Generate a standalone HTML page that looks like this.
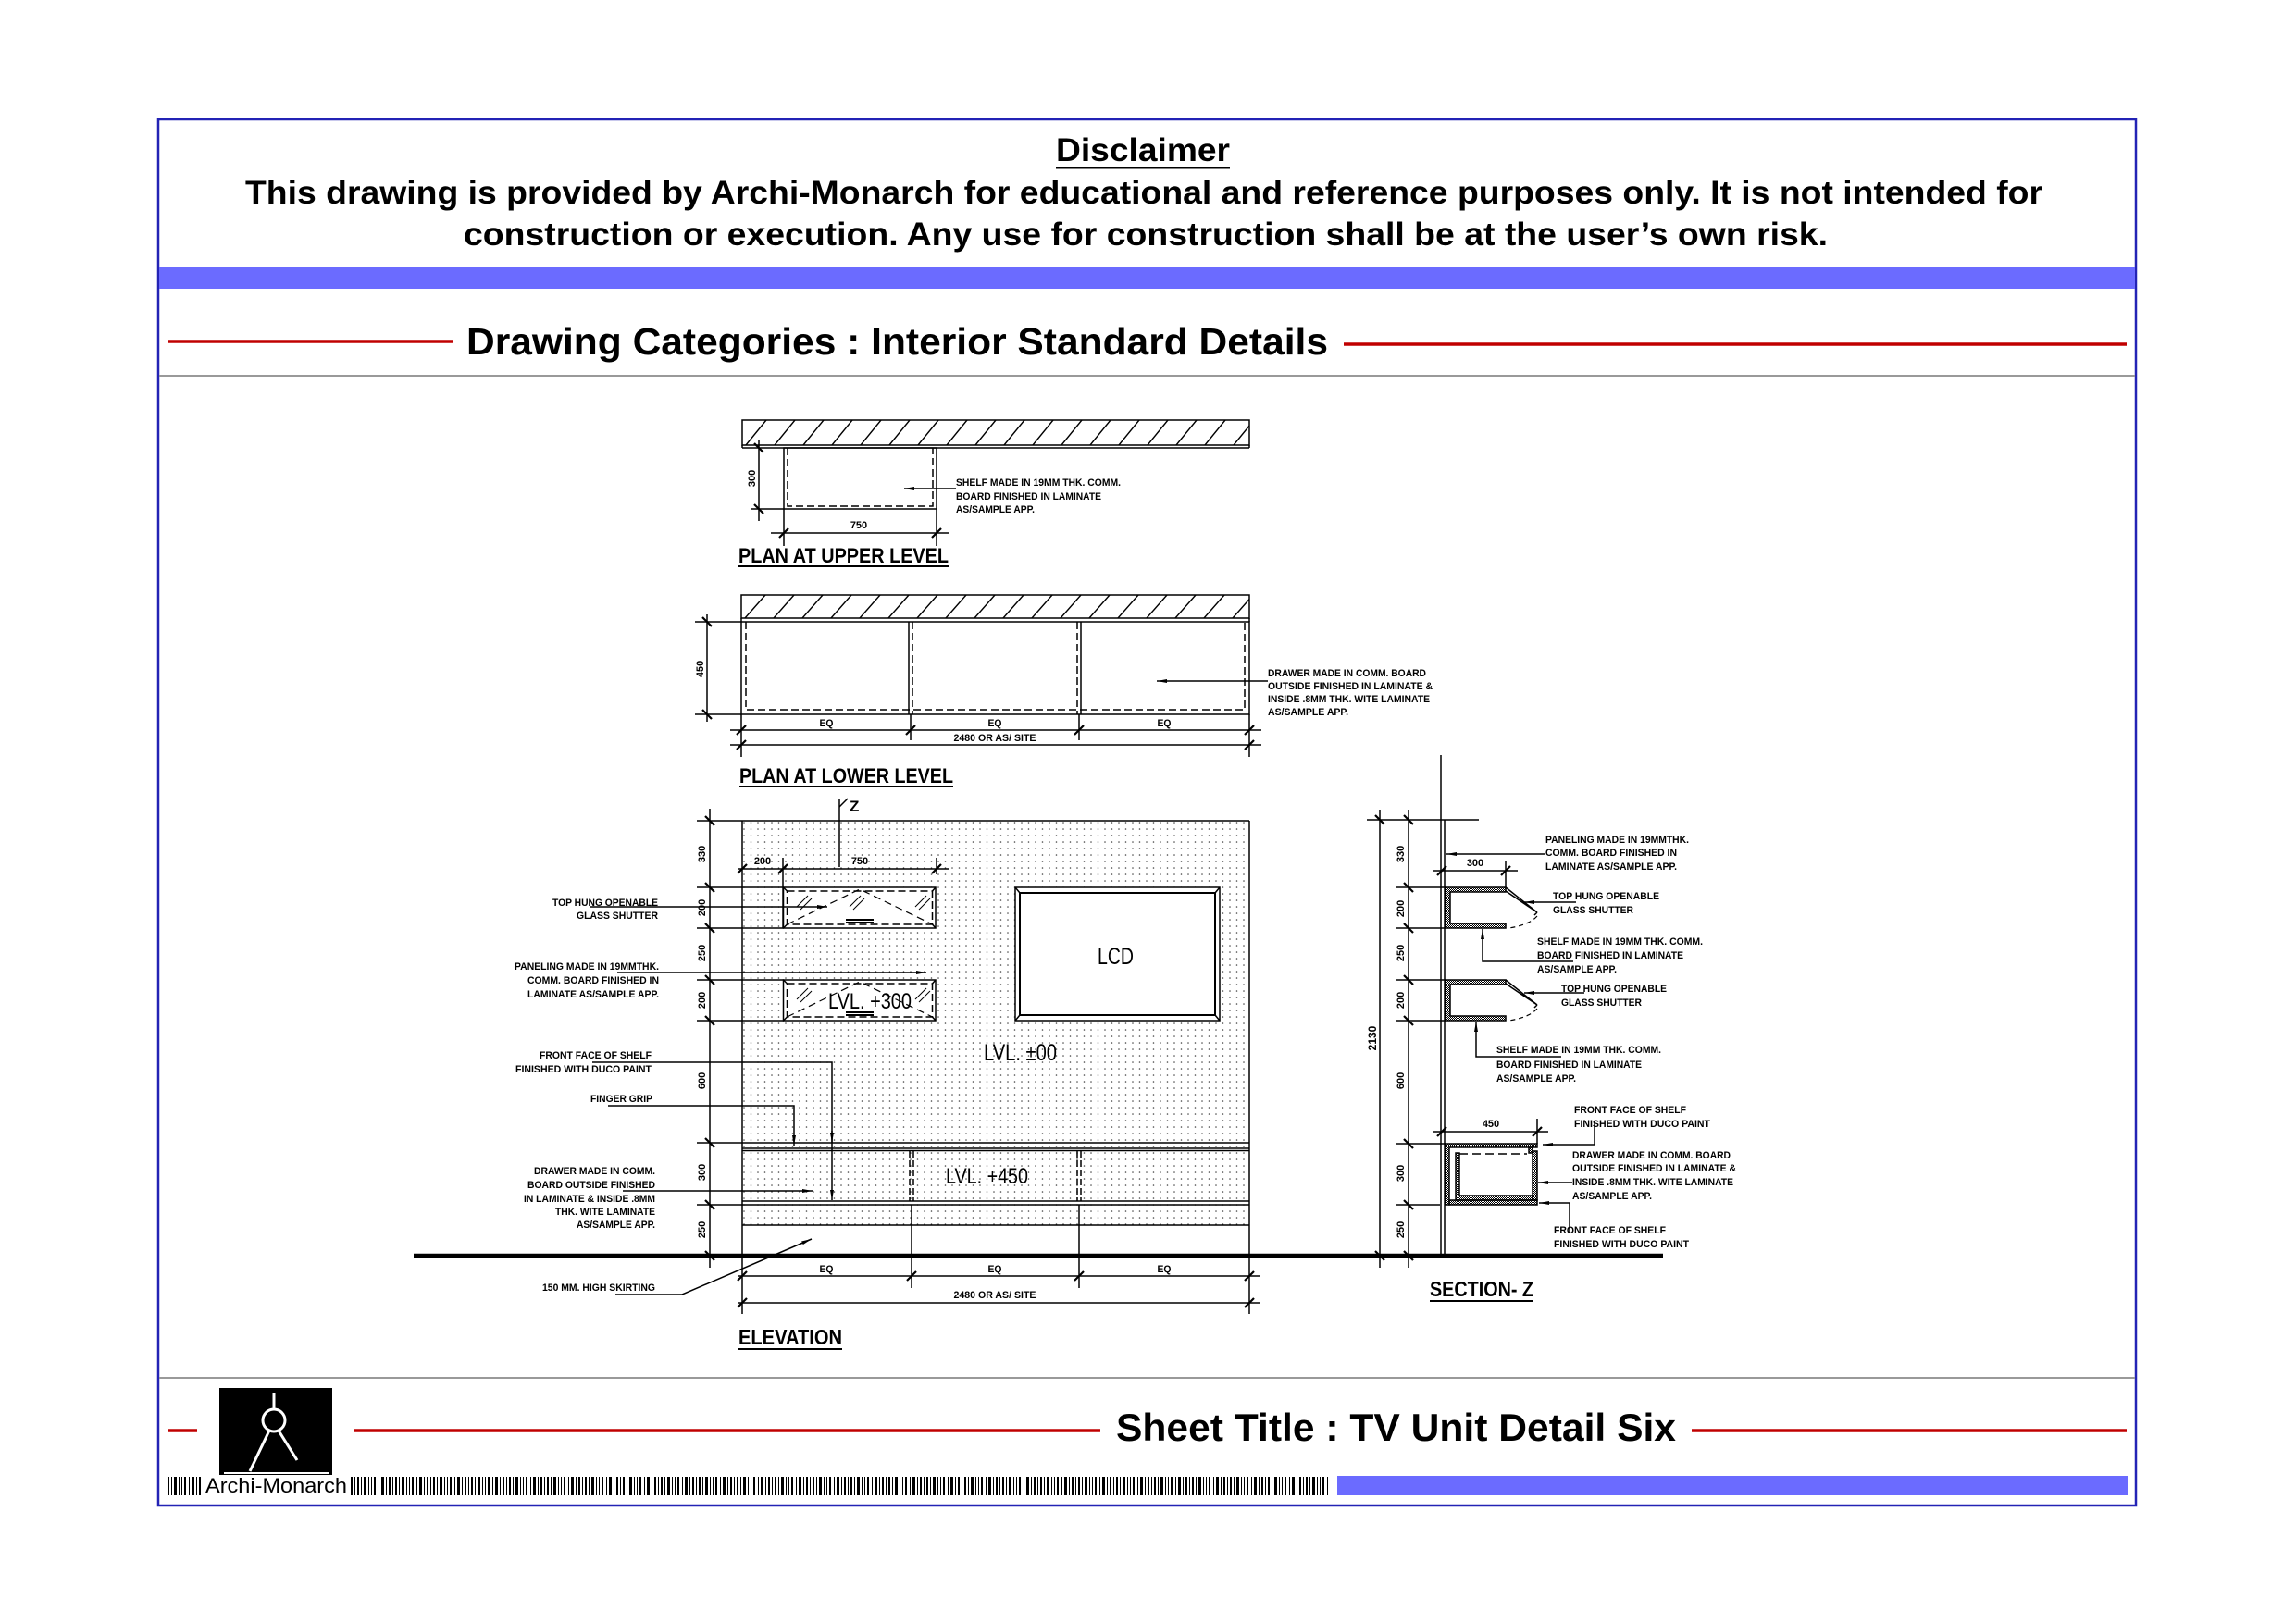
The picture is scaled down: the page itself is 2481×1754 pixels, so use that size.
<!DOCTYPE html>
<html><head><meta charset="utf-8"><style>
html,body{margin:0;padding:0;background:#fff;}
svg{display:block;}
text{font-family:"Liberation Sans",Arial,sans-serif;}
.b{font-weight:bold;}
.l{font-size:11px;font-weight:bold;}
.d{font-size:11px;font-weight:bold;}
</style></head><body>
<svg width="2481" height="1754" viewBox="0 0 2481 1754" xmlns="http://www.w3.org/2000/svg">
<defs>
 <pattern id="dots" patternUnits="userSpaceOnUse" x="802" y="887" width="7.5" height="7"><circle cx="2" cy="2" r="0.8" fill="#444"/></pattern>
 <pattern id="h1" patternUnits="userSpaceOnUse" x="802" y="454" width="31" height="27"><line x1="4" y1="27" x2="26" y2="0" stroke="#000" stroke-width="1.4"/></pattern>
 <pattern id="h2" patternUnits="userSpaceOnUse" x="801" y="643" width="31" height="25"><line x1="4" y1="25" x2="26" y2="0" stroke="#000" stroke-width="1.4"/></pattern>
 <pattern id="st" patternUnits="userSpaceOnUse" width="2" height="2"><rect width="1" height="1" fill="#000"/><rect x="1" y="1" width="1" height="1" fill="#000"/></pattern>
 <pattern id="bar" patternUnits="userSpaceOnUse" x="181" y="1596" width="41" height="20">
  <rect x="0" width="2" height="20"/><rect x="4" width="1" height="20"/><rect x="7" width="3" height="20"/><rect x="12" width="1" height="20"/><rect x="15" width="1" height="20"/><rect x="18" width="2" height="20"/><rect x="23" width="1" height="20"/><rect x="26" width="3" height="20"/><rect x="31" width="1" height="20"/><rect x="34" width="2" height="20"/><rect x="38" width="1" height="20"/>
 </pattern>
 <marker id="ar" markerUnits="userSpaceOnUse" markerWidth="12" markerHeight="6" refX="11" refY="3" orient="auto"><path d="M0,1 L11,3 L0,5 Z" fill="#000"/></marker>
 <g id="th"><line x1="-5" y1="5" x2="5" y2="-5" stroke="#000" stroke-width="2.2"/></g>
 <g id="tv"><line x1="-5" y1="-5" x2="5" y2="5" stroke="#000" stroke-width="2.2"/></g>
</defs>

<!-- frame -->
<rect x="171" y="129" width="2137" height="1498" fill="none" stroke="#2323b5" stroke-width="2.5"/>
<rect x="172" y="289" width="2135" height="23" fill="#6b6bff"/>
<line x1="172" y1="406" x2="2307" y2="406" stroke="#999" stroke-width="2"/>
<line x1="172" y1="1489" x2="2307" y2="1489" stroke="#999" stroke-width="2"/>

<!-- header -->
<text class="b" x="1141" y="174" font-size="35" textLength="188" lengthAdjust="spacingAndGlyphs">Disclaimer</text>
<rect x="1141" y="180" width="188" height="2.5" fill="#000"/>
<text class="b" x="265" y="220" font-size="35" textLength="1942" lengthAdjust="spacingAndGlyphs">This drawing is provided by Archi-Monarch for educational and reference purposes only. It is not intended for</text>
<text class="b" x="501" y="265" font-size="35" textLength="1474" lengthAdjust="spacingAndGlyphs">construction or execution. Any use for construction shall be at the user’s own risk.</text>

<line x1="181" y1="369" x2="490" y2="369" stroke="#c00000" stroke-width="3.5"/>
<line x1="1452" y1="372" x2="2298" y2="372" stroke="#c00000" stroke-width="3.5"/>
<text class="b" x="504" y="383" font-size="41" textLength="931" lengthAdjust="spacingAndGlyphs">Drawing Categories : Interior Standard Details</text>

<!-- footer -->
<line x1="181" y1="1546" x2="213" y2="1546" stroke="#c00000" stroke-width="3.5"/>
<line x1="382" y1="1546" x2="1189" y2="1546" stroke="#c00000" stroke-width="3.5"/>
<line x1="1828" y1="1546" x2="2298" y2="1546" stroke="#c00000" stroke-width="3.5"/>
<text class="b" x="1206" y="1557" font-size="42" textLength="605" lengthAdjust="spacingAndGlyphs">Sheet Title : TV Unit Detail Six</text>
<rect x="237" y="1500" width="122" height="95" fill="#000"/>
<g stroke="#fff" stroke-width="3" fill="none">
 <line x1="296" y1="1505" x2="296" y2="1522"/>
 <circle cx="296" cy="1535" r="12"/>
 <line x1="291" y1="1546" x2="270" y2="1590"/>
 <line x1="301" y1="1546" x2="321" y2="1578"/>
 <line x1="242" y1="1592" x2="355" y2="1592" stroke-width="2"/>
</g>
<rect x="181" y="1596" width="1254" height="20" fill="url(#bar)"/>
<rect x="217" y="1594" width="161" height="24" fill="#fff"/>
<text x="222" y="1613" font-size="22" textLength="153" lengthAdjust="spacingAndGlyphs">Archi-Monarch</text>
<rect x="1445" y="1595" width="855" height="21" fill="#6b6bff"/>

<!-- ============ DRAWING ============ -->
<g stroke="#000" stroke-width="1.5" fill="none">

<!-- PLAN AT UPPER LEVEL -->
<rect x="802" y="454" width="548" height="27" fill="url(#h1)"/>
<line x1="802" y1="484" x2="1350" y2="484"/>
<line x1="802" y1="481" x2="802" y2="484"/><line x1="1350" y1="481" x2="1350" y2="484"/>
<rect x="847" y="484" width="165" height="66"/>
<path d="M851,484 V547 H1008 V484" stroke-dasharray="8 4"/>
<line x1="820" y1="476" x2="820" y2="563"/>
<line x1="812" y1="550" x2="847" y2="550"/>
<line x1="833" y1="576" x2="1025" y2="576"/>
<line x1="847" y1="550" x2="847" y2="590"/><line x1="1012" y1="550" x2="1012" y2="590"/>
<line x1="1033" y1="528" x2="977" y2="528" marker-end="url(#ar)"/>
<line x1="798" y1="612" x2="1025" y2="612" stroke-width="2"/>

<!-- PLAN AT LOWER LEVEL -->
<rect x="801" y="643" width="549" height="25" fill="url(#h2)"/>
<rect x="801" y="672" width="549" height="100"/>
<line x1="801" y1="668" x2="801" y2="672"/><line x1="1350" y1="668" x2="1350" y2="672"/>
<path d="M806,672 V767 H1345 V672" stroke-dasharray="8 4"/>
<line x1="982" y1="672" x2="982" y2="772"/><line x1="986" y1="672" x2="986" y2="772" stroke-dasharray="8 4"/>
<line x1="1164" y1="672" x2="1164" y2="772" stroke-dasharray="8 4"/><line x1="1168" y1="672" x2="1168" y2="772"/>
<line x1="764" y1="664" x2="764" y2="780"/>
<line x1="751" y1="672" x2="801" y2="672"/><line x1="751" y1="772" x2="801" y2="772"/>
<line x1="789" y1="789" x2="1363" y2="789"/>
<line x1="789" y1="805" x2="1363" y2="805"/>
<line x1="801" y1="772" x2="801" y2="818"/><line x1="1350" y1="772" x2="1350" y2="818"/>
<line x1="984" y1="772" x2="984" y2="800"/><line x1="1166" y1="772" x2="1166" y2="800"/>
<line x1="1370" y1="736" x2="1250" y2="736" marker-end="url(#ar)"/>
<line x1="799" y1="850" x2="1030" y2="850" stroke-width="2"/>

<!-- ELEVATION -->
<rect x="802" y="887" width="548" height="437" fill="url(#dots)" stroke="none"/>
<line x1="802" y1="887" x2="802" y2="1357"/>
<line x1="1350" y1="887" x2="1350" y2="1357"/>
<line x1="753" y1="887" x2="1350" y2="887"/>
<line x1="753" y1="959" x2="847" y2="959"/>
<line x1="753" y1="1003" x2="847" y2="1003"/>
<line x1="753" y1="1059" x2="847" y2="1059"/>
<line x1="753" y1="1103" x2="847" y2="1103"/>
<line x1="753" y1="1235" x2="1350" y2="1235"/>
<line x1="802" y1="1241" x2="1350" y2="1241"/>
<line x1="802" y1="1243.5" x2="1350" y2="1243.5"/>
<line x1="802" y1="1298" x2="1350" y2="1298"/>
<line x1="753" y1="1302" x2="1350" y2="1302"/>
<line x1="802" y1="1324" x2="1350" y2="1324"/>
<line x1="767" y1="874" x2="767" y2="1370"/>
<!-- drawer partitions -->
<line x1="983" y1="1244" x2="983" y2="1298" stroke-dasharray="7 3"/><line x1="987" y1="1244" x2="987" y2="1298" stroke-dasharray="7 3"/>
<line x1="1164" y1="1244" x2="1164" y2="1298" stroke-dasharray="7 3"/><line x1="1168" y1="1244" x2="1168" y2="1298" stroke-dasharray="7 3"/>
<line x1="985" y1="1302" x2="985" y2="1392"/><line x1="1166" y1="1302" x2="1166" y2="1392"/>
<!-- section mark Z -->
<line x1="907" y1="864" x2="907" y2="937"/>
<line x1="907" y1="872" x2="916" y2="863"/>
<!-- 200/750 dim -->
<line x1="798" y1="939" x2="1025" y2="939"/>
<line x1="846" y1="927" x2="846" y2="1003"/>
<line x1="1012" y1="927" x2="1012" y2="945"/>

<!-- shutter 1 -->
<rect x="846.5" y="959" width="164.5" height="44" fill="#fff"/>
<rect x="850.5" y="963" width="157" height="36" stroke-dasharray="8 4"/>
<path d="M846.5,959 L850.5,963 M1011,959 L1007.5,963 M846.5,1003 L850.5,999 M1011,1003 L1007.5,999"/>
<path d="M850.5,999 L929,961 L1007.5,999" stroke-dasharray="8 5" stroke-width="1.2"/>
<path d="M861,980 L873,968 M865,983 L877,971 M918,980 L930,968 M922,983 L934,971 M989,980 L1001,968 M993,983 L1005,971" stroke-width="1"/>
<line x1="914" y1="994" x2="944" y2="994" stroke-width="2"/><line x1="914" y1="997" x2="944" y2="997" stroke-width="2"/>
<!-- shutter 2 -->
<rect x="846.5" y="1059" width="164.5" height="44" fill="#fff"/>
<rect x="850.5" y="1063" width="157" height="36" stroke-dasharray="8 4"/>
<path d="M846.5,1059 L850.5,1063 M1011,1059 L1007.5,1063 M846.5,1103 L850.5,1099 M1011,1103 L1007.5,1099"/>
<path d="M850.5,1099 L929,1061 L1007.5,1099" stroke-dasharray="8 5" stroke-width="1.2"/>
<path d="M861,1080 L873,1068 M865,1083 L877,1071 M989,1080 L1001,1068 M993,1083 L1005,1071" stroke-width="1"/>
<line x1="914" y1="1094" x2="944" y2="1094" stroke-width="2"/><line x1="914" y1="1097" x2="944" y2="1097" stroke-width="2"/>
<!-- LCD -->
<rect x="1097" y="959" width="221" height="144" fill="#fff"/>
<rect x="1102" y="965" width="211" height="132" stroke-width="2"/>
<path d="M1097,959 L1102,965 M1318,959 L1313,965 M1097,1103 L1102,1097 M1318,1103 L1313,1097"/>

<!-- elevation leaders -->
<line x1="637" y1="980" x2="894" y2="980" marker-end="url(#ar)"/>
<line x1="667" y1="1051" x2="1001" y2="1051" marker-end="url(#ar)"/>
<polyline points="640,1148 899,1148 899,1297" marker-end="url(#ar)"/>
<line x1="899" y1="1222" x2="899" y2="1235" marker-end="url(#ar)"/>
<polyline points="657,1195 858,1195 858,1238" marker-end="url(#ar)"/>
<line x1="673" y1="1287" x2="878" y2="1287" marker-end="url(#ar)"/>
<polyline points="665,1399 737,1399 877,1339" marker-end="url(#ar)"/>

<!-- elevation bottom dims -->
<line x1="798" y1="1379" x2="1362" y2="1379"/>
<line x1="798" y1="1408" x2="1362" y2="1408"/>
<line x1="802" y1="1357" x2="802" y2="1420"/><line x1="1350" y1="1357" x2="1350" y2="1420"/>
<line x1="798" y1="1458" x2="910" y2="1458" stroke-width="2"/>

<!-- SECTION Z -->
<line x1="1557" y1="816" x2="1557" y2="1357"/>
<line x1="1561" y1="886" x2="1561" y2="1357"/>
<line x1="1491" y1="875" x2="1491" y2="1370"/>
<line x1="1522" y1="875" x2="1522" y2="1370"/>
<line x1="1477" y1="886" x2="1598" y2="886"/>
<line x1="1509" y1="959" x2="1562" y2="959"/>
<line x1="1509" y1="1003" x2="1562" y2="1003"/>
<line x1="1509" y1="1059" x2="1562" y2="1059"/>
<line x1="1509" y1="1103" x2="1562" y2="1103"/>
<line x1="1509" y1="1236" x2="1562" y2="1236"/>
<line x1="1509" y1="1302" x2="1556" y2="1302"/>
<!-- 300 dim -->
<line x1="1548" y1="941" x2="1640" y2="941"/>
<line x1="1627" y1="930" x2="1627" y2="959"/>
<!-- shelf 1 -->
<path d="M1562,959 H1627 V964 H1567 V998 H1627 V1003 H1562 Z" fill="url(#st)"/>
<path d="M1627,959 L1661,986 L1627,963 M1661,986 L1658,989" />
<path d="M1661,990 Q1652,1000 1630,1003" stroke-dasharray="5 4" stroke-width="1.2"/>
<!-- shelf 2 -->
<path d="M1562,1059 H1627 V1064 H1567 V1098 H1627 V1103 H1562 Z" fill="url(#st)"/>
<path d="M1627,1059 L1661,1086 L1627,1063 M1661,1086 L1658,1089"/>
<path d="M1661,1090 Q1652,1100 1630,1103" stroke-dasharray="5 4" stroke-width="1.2"/>
<!-- drawer -->
<line x1="1548" y1="1223" x2="1673" y2="1223"/>
<line x1="1661" y1="1209" x2="1661" y2="1236"/>
<path d="M1562,1236 H1661 V1240 H1566 V1302 H1562 Z" fill="url(#st)"/>
<path d="M1566,1297 H1661 V1302 H1566 Z" fill="url(#st)"/>
<path d="M1656,1244 H1661 V1297 H1656 Z" fill="url(#st)"/>
<path d="M1573,1246 H1577 V1292 H1656 V1297 H1573 Z" fill="url(#st)"/>
<path d="M1652,1240 H1656 V1246 H1652 Z" fill="url(#st)"/>
<line x1="1577" y1="1247" x2="1650" y2="1247" stroke-dasharray="9 5"/>
<!-- section leaders -->
<line x1="1670" y1="923" x2="1563" y2="923" marker-end="url(#ar)"/>
<line x1="1703" y1="975" x2="1647" y2="975" marker-end="url(#ar)"/>
<polyline points="1700,1039 1602,1039 1602,1004" marker-end="url(#ar)"/>
<line x1="1712" y1="1073" x2="1647" y2="1073" marker-end="url(#ar)"/>
<polyline points="1687,1142 1595,1142 1595,1104" marker-end="url(#ar)"/>
<polyline points="1723,1214 1723,1237 1667,1237" marker-end="url(#ar)"/>
<line x1="1699" y1="1278" x2="1662" y2="1278" marker-end="url(#ar)"/>
<polyline points="1696,1333 1696,1300 1663,1300" marker-end="url(#ar)"/>
<line x1="1545" y1="1406" x2="1657" y2="1406" stroke-width="2"/>
</g>

<!-- floor -->
<line x1="447" y1="1357" x2="1797" y2="1357" stroke="#000" stroke-width="4.5"/>

<!-- ticks -->
<use href="#tv" x="820" y="484"/><use href="#tv" x="820" y="550"/>
<use href="#th" x="847" y="576"/><use href="#th" x="1012" y="576"/>
<use href="#tv" x="764" y="672"/><use href="#tv" x="764" y="772"/>
<use href="#th" x="801" y="789"/><use href="#th" x="984" y="789"/><use href="#th" x="1166" y="789"/><use href="#th" x="1350" y="789"/>
<use href="#th" x="801" y="805"/><use href="#th" x="1350" y="805"/>
<use href="#tv" x="767" y="887"/><use href="#tv" x="767" y="959"/><use href="#tv" x="767" y="1003"/><use href="#tv" x="767" y="1059"/><use href="#tv" x="767" y="1103"/><use href="#tv" x="767" y="1235"/><use href="#tv" x="767" y="1302"/><use href="#tv" x="767" y="1357"/>
<use href="#th" x="802" y="939"/><use href="#th" x="846" y="939"/><use href="#th" x="1012" y="939"/>
<use href="#th" x="802" y="1379"/><use href="#th" x="985" y="1379"/><use href="#th" x="1166" y="1379"/><use href="#th" x="1350" y="1379"/>
<use href="#th" x="802" y="1408"/><use href="#th" x="1350" y="1408"/>
<use href="#tv" x="1491" y="886"/><use href="#tv" x="1491" y="1357"/>
<use href="#tv" x="1522" y="886"/><use href="#tv" x="1522" y="959"/><use href="#tv" x="1522" y="1003"/><use href="#tv" x="1522" y="1059"/><use href="#tv" x="1522" y="1103"/><use href="#tv" x="1522" y="1236"/><use href="#tv" x="1522" y="1302"/><use href="#tv" x="1522" y="1357"/>
<use href="#th" x="1558" y="941"/><use href="#th" x="1627" y="941"/>
<use href="#th" x="1558" y="1223"/><use href="#th" x="1661" y="1223"/>

<!-- dimension texts -->
<g class="d" text-anchor="middle">
<text transform="translate(812,517) rotate(-90)" dy="4">300</text>
<text x="928" y="571">750</text>
<text transform="translate(756,723) rotate(-90)" dy="4">450</text>
<text x="893" y="785" textLength="15" lengthAdjust="spacingAndGlyphs">EQ</text>
<text x="1075" y="785" textLength="15" lengthAdjust="spacingAndGlyphs">EQ</text>
<text x="1258" y="785" textLength="15" lengthAdjust="spacingAndGlyphs">EQ</text>
<text x="1075" y="801" textLength="89" lengthAdjust="spacingAndGlyphs">2480 OR AS/ SITE</text>
<text transform="translate(758,923) rotate(-90)" dy="4">330</text>
<text transform="translate(758,981) rotate(-90)" dy="4">200</text>
<text transform="translate(758,1030) rotate(-90)" dy="4">250</text>
<text transform="translate(758,1081) rotate(-90)" dy="4">200</text>
<text transform="translate(758,1168) rotate(-90)" dy="4">600</text>
<text transform="translate(758,1267) rotate(-90)" dy="4">300</text>
<text transform="translate(758,1329) rotate(-90)" dy="4">250</text>
<text x="824" y="934">200</text>
<text x="929" y="934">750</text>
<text x="893" y="1375" textLength="15" lengthAdjust="spacingAndGlyphs">EQ</text>
<text x="1075" y="1375" textLength="15" lengthAdjust="spacingAndGlyphs">EQ</text>
<text x="1258" y="1375" textLength="15" lengthAdjust="spacingAndGlyphs">EQ</text>
<text x="1075" y="1403" textLength="89" lengthAdjust="spacingAndGlyphs">2480 OR AS/ SITE</text>
<text transform="translate(1513,923) rotate(-90)" dy="4">330</text>
<text transform="translate(1513,982) rotate(-90)" dy="4">200</text>
<text transform="translate(1513,1030) rotate(-90)" dy="4">250</text>
<text transform="translate(1513,1081) rotate(-90)" dy="4">200</text>
<text transform="translate(1513,1168) rotate(-90)" dy="4">600</text>
<text transform="translate(1513,1268) rotate(-90)" dy="4">300</text>
<text transform="translate(1513,1329) rotate(-90)" dy="4">250</text>
<text transform="translate(1483,1122) rotate(-90)" dy="4" font-size="12">2130</text>
<text x="1594" y="936">300</text>
<text x="1611" y="1218">450</text>
</g>

<!-- labels -->
<g class="l">
<text x="1033" y="525" textLength="178" lengthAdjust="spacingAndGlyphs">SHELF MADE IN 19MM THK. COMM.</text>
<text x="1033" y="540" textLength="157" lengthAdjust="spacingAndGlyphs">BOARD FINISHED IN LAMINATE</text>
<text x="1033" y="554" textLength="85" lengthAdjust="spacingAndGlyphs">AS/SAMPLE APP.</text>

<text x="1370" y="731" textLength="171" lengthAdjust="spacingAndGlyphs">DRAWER MADE IN COMM. BOARD</text>
<text x="1370" y="745" textLength="178" lengthAdjust="spacingAndGlyphs">OUTSIDE FINISHED IN LAMINATE &amp;</text>
<text x="1370" y="759" textLength="175" lengthAdjust="spacingAndGlyphs">INSIDE .8MM THK. WITE LAMINATE</text>
<text x="1370" y="773" textLength="87" lengthAdjust="spacingAndGlyphs">AS/SAMPLE APP.</text>

<text x="597" y="979" textLength="114" lengthAdjust="spacingAndGlyphs">TOP HUNG OPENABLE</text>
<text x="623" y="993" textLength="88" lengthAdjust="spacingAndGlyphs">GLASS SHUTTER</text>
<text x="556" y="1048" textLength="156" lengthAdjust="spacingAndGlyphs">PANELING MADE IN 19MMTHK.</text>
<text x="570" y="1063" textLength="142" lengthAdjust="spacingAndGlyphs">COMM. BOARD FINISHED IN</text>
<text x="570" y="1078" textLength="142" lengthAdjust="spacingAndGlyphs">LAMINATE AS/SAMPLE APP.</text>
<text x="583" y="1144" textLength="121" lengthAdjust="spacingAndGlyphs">FRONT FACE OF SHELF</text>
<text x="557" y="1159" textLength="147" lengthAdjust="spacingAndGlyphs">FINISHED WITH DUCO PAINT</text>
<text x="638" y="1191" textLength="67" lengthAdjust="spacingAndGlyphs">FINGER GRIP</text>
<text x="577" y="1269" textLength="131" lengthAdjust="spacingAndGlyphs">DRAWER MADE IN COMM.</text>
<text x="570" y="1284" textLength="138" lengthAdjust="spacingAndGlyphs">BOARD OUTSIDE FINISHED</text>
<text x="566" y="1299" textLength="142" lengthAdjust="spacingAndGlyphs">IN LAMINATE &amp; INSIDE .8MM</text>
<text x="600" y="1313" textLength="108" lengthAdjust="spacingAndGlyphs">THK. WITE LAMINATE</text>
<text x="623" y="1327" textLength="85" lengthAdjust="spacingAndGlyphs">AS/SAMPLE APP.</text>
<text x="586" y="1395" textLength="122" lengthAdjust="spacingAndGlyphs">150 MM. HIGH SKIRTING</text>

<text x="1670" y="911" textLength="155" lengthAdjust="spacingAndGlyphs">PANELING MADE IN 19MMTHK.</text>
<text x="1670" y="925" textLength="142" lengthAdjust="spacingAndGlyphs">COMM. BOARD FINISHED IN</text>
<text x="1670" y="940" textLength="142" lengthAdjust="spacingAndGlyphs">LAMINATE AS/SAMPLE APP.</text>
<text x="1678" y="972" textLength="115" lengthAdjust="spacingAndGlyphs">TOP HUNG OPENABLE</text>
<text x="1678" y="987" textLength="87" lengthAdjust="spacingAndGlyphs">GLASS SHUTTER</text>
<text x="1661" y="1021" textLength="179" lengthAdjust="spacingAndGlyphs">SHELF MADE IN 19MM THK. COMM.</text>
<text x="1661" y="1036" textLength="158" lengthAdjust="spacingAndGlyphs">BOARD FINISHED IN LAMINATE</text>
<text x="1661" y="1051" textLength="86" lengthAdjust="spacingAndGlyphs">AS/SAMPLE APP.</text>
<text x="1687" y="1072" textLength="114" lengthAdjust="spacingAndGlyphs">TOP HUNG OPENABLE</text>
<text x="1687" y="1087" textLength="87" lengthAdjust="spacingAndGlyphs">GLASS SHUTTER</text>
<text x="1617" y="1138" textLength="178" lengthAdjust="spacingAndGlyphs">SHELF MADE IN 19MM THK. COMM.</text>
<text x="1617" y="1154" textLength="157" lengthAdjust="spacingAndGlyphs">BOARD FINISHED IN LAMINATE</text>
<text x="1617" y="1169" textLength="86" lengthAdjust="spacingAndGlyphs">AS/SAMPLE APP.</text>
<text x="1701" y="1203" textLength="121" lengthAdjust="spacingAndGlyphs">FRONT FACE OF SHELF</text>
<text x="1701" y="1218" textLength="147" lengthAdjust="spacingAndGlyphs">FINISHED WITH DUCO PAINT</text>
<text x="1699" y="1252" textLength="171" lengthAdjust="spacingAndGlyphs">DRAWER MADE IN COMM. BOARD</text>
<text x="1699" y="1266" textLength="177" lengthAdjust="spacingAndGlyphs">OUTSIDE FINISHED IN LAMINATE &amp;</text>
<text x="1699" y="1281" textLength="174" lengthAdjust="spacingAndGlyphs">INSIDE .8MM THK. WITE LAMINATE</text>
<text x="1699" y="1296" textLength="86" lengthAdjust="spacingAndGlyphs">AS/SAMPLE APP.</text>
<text x="1679" y="1333" textLength="121" lengthAdjust="spacingAndGlyphs">FRONT FACE OF SHELF</text>
<text x="1679" y="1348" textLength="146" lengthAdjust="spacingAndGlyphs">FINISHED WITH DUCO PAINT</text>
</g>

<!-- in-drawing big texts -->
<text x="895" y="1090" font-size="24" textLength="90" lengthAdjust="spacingAndGlyphs">LVL. +300</text>
<text x="1186" y="1042" font-size="25" textLength="39" lengthAdjust="spacingAndGlyphs">LCD</text>
<text x="1063" y="1146" font-size="25" textLength="79" lengthAdjust="spacingAndGlyphs">LVL. ±00</text>
<text x="1022" y="1279" font-size="24" textLength="89" lengthAdjust="spacingAndGlyphs">LVL. +450</text>
<text class="b" x="918" y="877" font-size="17">Z</text>

<!-- titles -->
<text class="b" x="798" y="608" font-size="22" textLength="227" lengthAdjust="spacingAndGlyphs">PLAN AT UPPER LEVEL</text>
<text class="b" x="799" y="846" font-size="22" textLength="231" lengthAdjust="spacingAndGlyphs">PLAN AT LOWER LEVEL</text>
<text class="b" x="798" y="1453" font-size="23" textLength="112" lengthAdjust="spacingAndGlyphs">ELEVATION</text>
<text class="b" x="1545" y="1401" font-size="23" textLength="112" lengthAdjust="spacingAndGlyphs">SECTION- Z</text>
</svg>
</body></html>
